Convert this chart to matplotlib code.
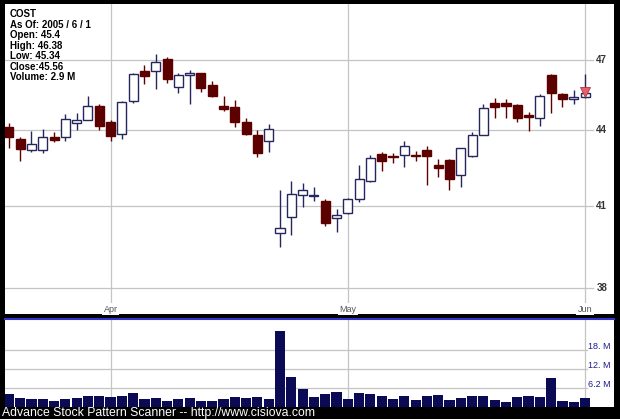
import matplotlib.pyplot as plt
import matplotlib.transforms as mtransforms
import numpy as np
import pandas as pd

plt.rcParams['font.family'] = ['Liberation Sans', 'DejaVu Sans']

ticker = "COST"
# trading days (Good Friday and Memorial Day closed)
dates = pd.bdate_range("2005-03-18", "2005-06-01")
dates = dates.drop([pd.Timestamp("2005-03-25"), pd.Timestamp("2005-05-30")])

opens = [44.14, 43.66, 43.20, 43.20, 43.71, 43.73, 44.32, 44.43, 45.02, 44.36,
         43.86, 45.23, 46.52, 46.49, 47.04, 45.80, 46.33, 46.40, 45.90, 45.02,
         44.99, 44.33, 43.81, 43.55, 40.00, 40.57, 41.43, 41.38, 41.20, 40.54,
         40.73, 41.29, 41.97, 43.05, 42.95, 43.02, 43.00, 43.20, 42.60, 42.82,
         42.19, 42.97, 43.83, 45.12, 45.12, 45.07, 44.65, 44.51, 46.35, 45.52,
         45.31, 45.40]
highs = [44.30, 43.71, 43.96, 44.06, 43.92, 44.69, 44.72, 45.42, 45.08, 44.44,
         45.22, 46.42, 46.77, 47.25, 47.13, 46.42, 46.53, 46.42, 46.08, 45.45,
         45.26, 44.51, 44.03, 44.27, 41.63, 41.98, 41.90, 41.73, 41.28, 40.88,
         41.32, 42.62, 43.02, 43.14, 43.10, 43.55, 43.18, 43.37, 42.86, 42.85,
         43.30, 43.92, 45.11, 45.35, 45.32, 45.09, 44.77, 45.52, 46.38, 45.54,
         45.70, 46.38]
lows = [43.28, 42.77, 43.14, 43.08, 43.52, 43.55, 44.00, 44.41, 44.00, 43.58,
        43.66, 45.14, 45.96, 45.74, 45.99, 45.56, 45.10, 45.60, 45.37, 44.81,
        44.14, 43.82, 42.92, 43.14, 39.48, 39.90, 40.96, 41.18, 40.26, 40.02,
        40.70, 41.15, 41.95, 42.35, 42.70, 42.52, 42.77, 41.82, 42.12, 41.63,
        41.73, 42.94, 43.81, 44.51, 44.51, 44.34, 43.96, 44.16, 44.72, 44.99,
        45.11, 45.34]
closes = [43.73, 43.24, 43.44, 43.73, 43.59, 44.47, 44.43, 45.02, 44.16, 43.79,
          45.18, 46.39, 46.30, 46.90, 46.17, 46.32, 46.42, 45.76, 45.42, 44.87,
          44.33, 43.86, 43.10, 44.06, 40.18, 41.47, 41.62, 41.43, 40.35, 40.66,
          41.27, 42.06, 42.89, 42.78, 42.92, 43.37, 42.97, 42.98, 42.50, 42.06,
          43.28, 43.81, 44.91, 44.97, 45.01, 44.52, 44.55, 45.42, 45.56, 45.32,
          45.38, 45.56]
volumes = [4.2, 3.0, 2.7, 2.5, 1.9, 2.5, 2.9, 3.5, 3.5, 3.3,
           3.5, 4.6, 2.6, 2.9, 1.9, 2.6, 2.8, 2.1, 1.9, 2.6,
           3.3, 3.0, 3.3, 2.7, 24.6, 9.7, 6.0, 3.2, 4.2, 4.9,
           2.6, 4.6, 4.2, 3.6, 2.6, 3.5, 2.4, 3.6, 3.9, 2.4,
           2.9, 3.6, 3.5, 2.3, 1.6, 3.2, 3.7, 3.4, 9.4, 2.1,
           1.7, 2.9]  # millions

price_ticks = [38, 41, 44, 47]
vol_ticks = [6.2, 12.4, 18.6]
vol_labels = ["6.2 M", "12. M", "18. M"]

o = np.array(opens); h = np.array(highs); l = np.array(lows); c = np.array(closes)
x = np.arange(len(dates))
up = c >= o

DOWN = '#5c0000'
UP_EDGE = '#26265e'
GRID = '#c4c4c4'

fig = plt.figure(figsize=(6.2, 4.19), dpi=100, facecolor='black')
ax = fig.add_axes([5/620, 105/419, 609/620, 310/419])
axv = fig.add_axes([5/620, 12/419, 609/620, 88/419])

# month boundaries
months = pd.Series(dates.month)
month_idx = x[(months != months.shift()).values][1:]

# ---- price panel
ax.set_yscale('log')
ax.set_ylim(37.08, 49.5)
ax.set_xlim(-0.34, 53.56)
for p in price_ticks:
    ax.axhline(p, xmax=0.9655, color=GRID, lw=0.9, zorder=0)
    ax.text(0.971, p, str(p), transform=ax.get_yaxis_transform(),
            ha='left', va='center', fontsize=7, fontweight='bold', color='#333333')
for m in month_idx:
    ax.axvline(m, color=GRID, lw=0.9, zorder=0)
    ax.text(m, 0.016, dates[m].strftime('%b'), transform=ax.get_xaxis_transform(),
            ha='center', va='center', fontsize=6.5, color='#555555',
            bbox=dict(facecolor='white', edgecolor='none', pad=1))

ax.vlines(x[up], l[up], h[up], color=UP_EDGE, lw=1, zorder=2)
ax.vlines(x[~up], l[~up], h[~up], color=DOWN, lw=1, zorder=2)
ax.bar(x[up], c[up] - o[up], bottom=o[up], width=0.8, color='white',
       edgecolor=UP_EDGE, lw=1, zorder=3)
ax.bar(x[~up], o[~up] - c[~up], bottom=c[~up], width=0.8, color=DOWN,
       edgecolor=DOWN, lw=1, zorder=3)

# signal marker on last bar
mk = mtransforms.offset_copy(ax.transData, fig=fig, x=0, y=1, units='dots')
ax.plot(x[-1], c[-1], marker='v', ms=6.5, color='#e8606c', mec='#b03040',
        mew=0.6, transform=mk, zorder=4)

info = [ticker,
        "As Of: %d / %d / %d" % (dates[-1].year, dates[-1].month, dates[-1].day),
        "Open: %g" % opens[-1], "High: %g" % highs[-1], "Low: %g" % lows[-1],
        "Close:%g" % closes[-1], "Volume: %g M" % volumes[-1]]
for i, s in enumerate(info):
    ax.text(0.0082, 0.9677 - i * 0.0339, s, transform=ax.transAxes,
            ha='left', va='center', fontsize=7, fontweight='bold', color='black')

# ---- volume panel
axv.set_xlim(ax.get_xlim())
axv.set_ylim(0, 28.6)
for v, lab in zip(vol_ticks, vol_labels):
    axv.axhline(v, xmax=0.955, color=GRID, lw=0.9, zorder=0)
    axv.annotate(lab, (0.958, v), xycoords=axv.get_yaxis_transform(),
                 xytext=(0, 2.5), textcoords='offset points',
                 ha='left', va='center', fontsize=6.5, color='#1c1c8c')
for m in month_idx:
    axv.axvline(m, color=GRID, lw=0.9, zorder=0)
axv.bar(x, volumes, width=0.9, color='#0a0a55', zorder=2)

for a in (ax, axv):
    a.set_xticks([])
    a.set_yticks([])
    a.minorticks_off()
    a.yaxis.set_minor_locator(plt.NullLocator())
    for s in a.spines.values():
        s.set_visible(False)
axv.spines['top'].set_visible(True)
axv.spines['top'].set_color('#3434c8')
axv.spines['top'].set_linewidth(1.5)

fig.text(2/620, 6.5/419, "Advance Stock Pattern Scanner -- http://www.cisiova.com",
         ha='left', va='center', fontsize=8.8, color='white')

fig.savefig('out.png', dpi=100, facecolor='black')
